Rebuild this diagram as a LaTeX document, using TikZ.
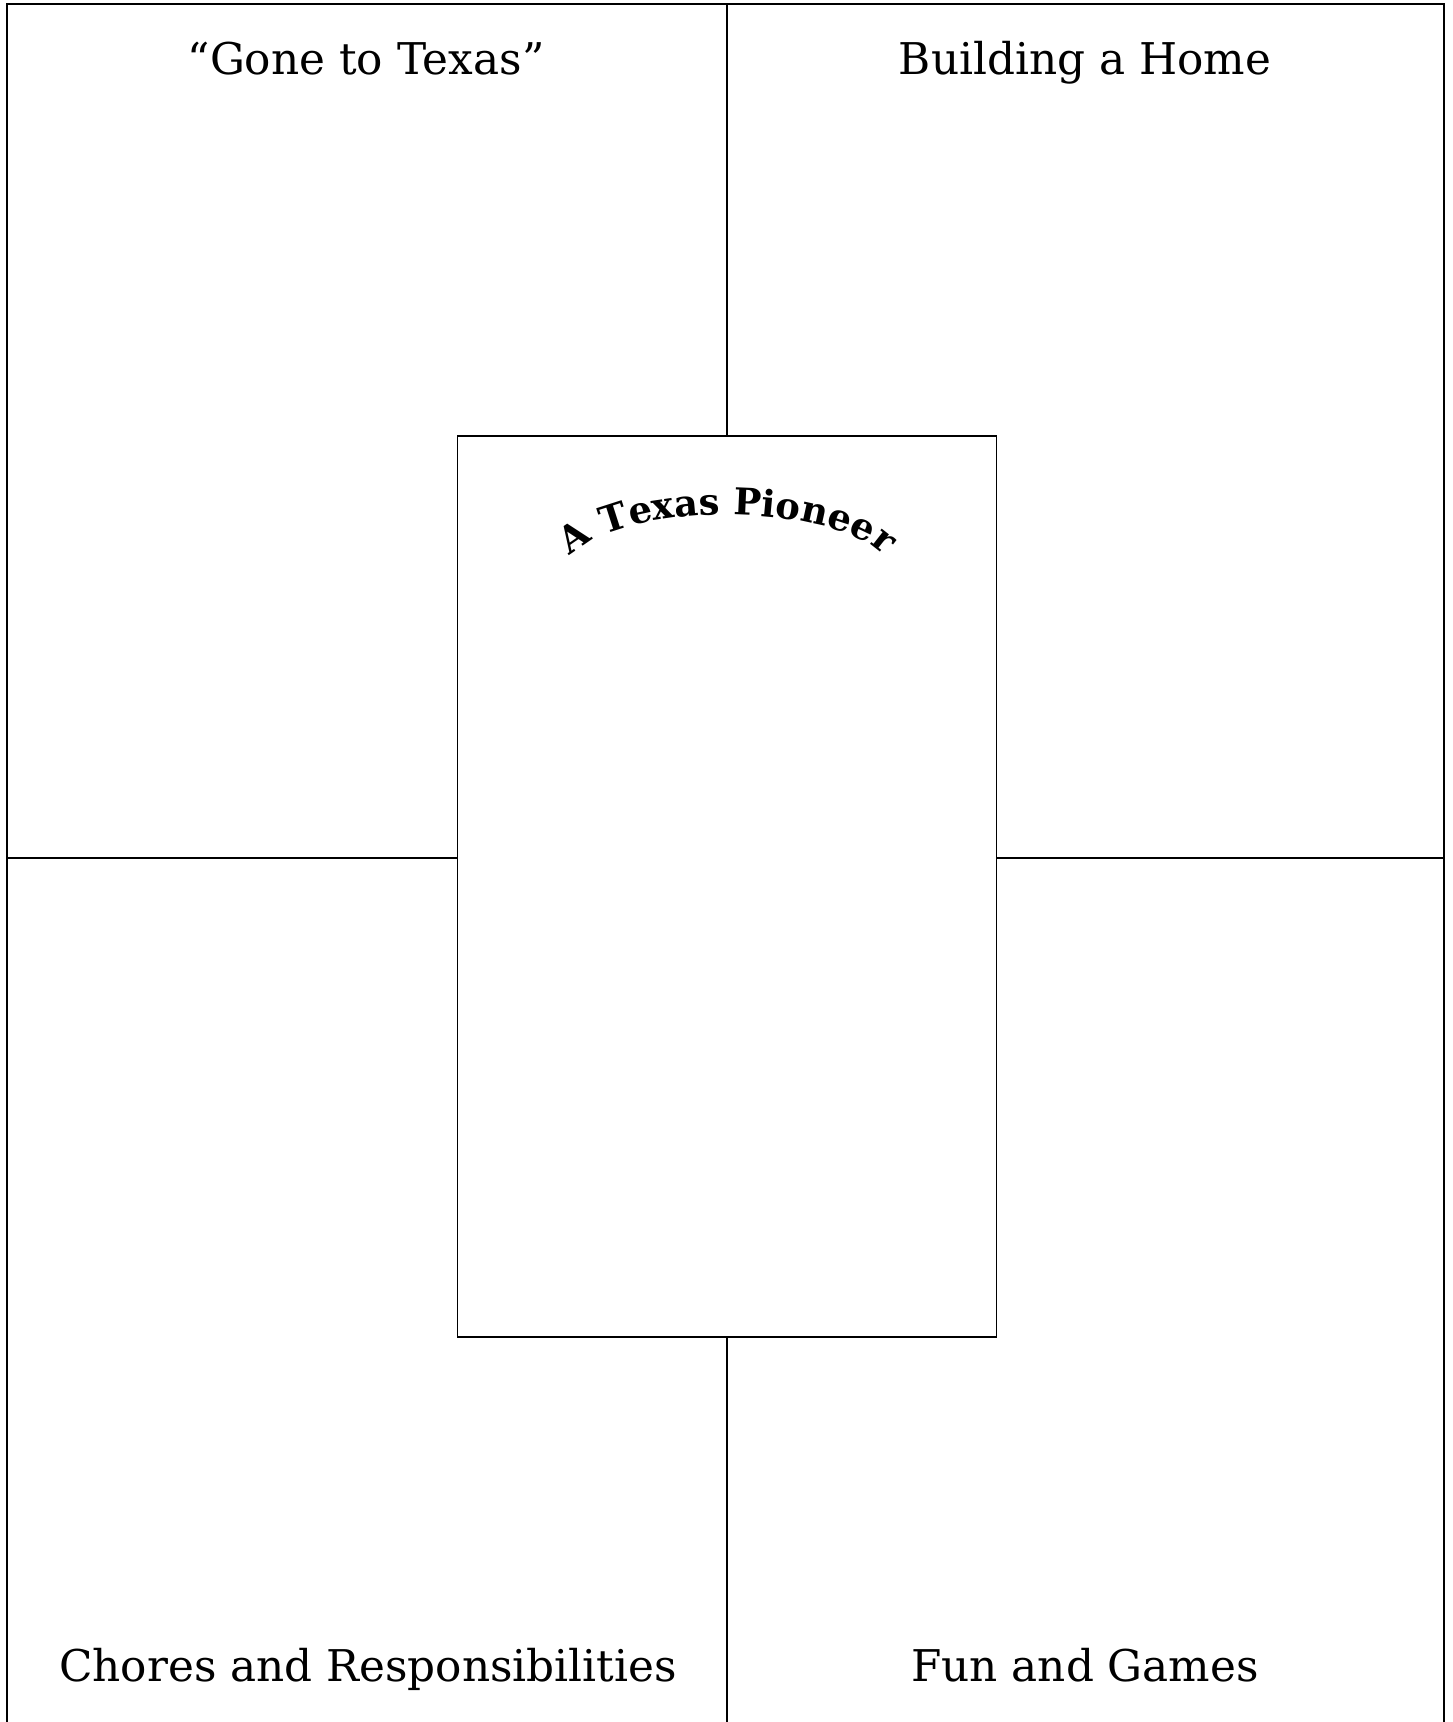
\documentclass[tikz,border=0pt]{standalone}
\usepackage{fontspec}
\setmainfont{DejaVu Serif}
\usetikzlibrary{decorations.text}

\begin{document}
\begin{tikzpicture}[x=0.02cm,y=0.02cm,
  frame/.style={line width=1.1pt},
  panel/.style={line width=0.8pt},
  heading/.style={anchor=base, font=\fontsize{24.9}{29}\selectfont}]
\useasboundingbox (0,0) rectangle (1453,1722);
% outer frame, open at the bottom
\draw[frame] (7,0) -- (7,1718) -- (1444,1718) -- (1444,0);
\coordinate (topmid) at (727,1718);
\coordinate (botmid) at (727,0);
\coordinate (leftmid) at (7,864);
\coordinate (rightmid) at (1444,864);

% centre panel
\node[draw, panel, inner sep=0pt, minimum width=10.78cm, minimum height=18.02cm] (portrait) at (727,835.5) {};
\draw[panel] (topmid) -- (portrait.north);
\draw[panel] (portrait.south) -- (botmid);
\draw[panel] (leftmid) -- (leftmid -| portrait.west);
\draw[panel] (portrait.east |- rightmid) -- (rightmid);

% panel headings
\node[heading] (gone) at (366,1647) {“Gone to Texas”};
\node[heading] (home) at (1085,1647) {Building a Home};
\node[heading] (chores) at (368,40) {Chores and Responsibilities};
\node[heading] (games) at (1085,40) {Fun and Games};

% arched title
\path[decorate, decoration={text along path, text align=center,
      text={|\bfseries\fontsize{21}{24}\selectfont|A Texas Pioneer}}]
  (562,1147) arc[start angle=180, end angle=0, x radius=165, y radius=60];
\end{tikzpicture}
\end{document}
